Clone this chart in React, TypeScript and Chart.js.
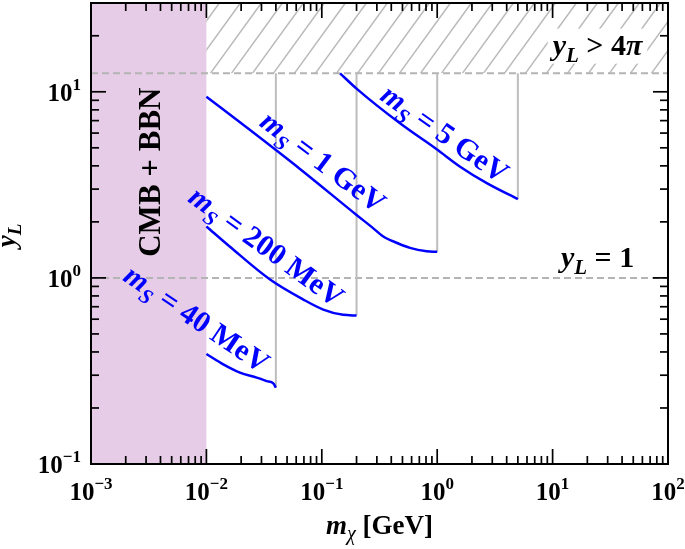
import React, { useEffect, useRef } from "react";
import { Chart, registerables } from "chart.js";

Chart.register(...registerables);

const SERIF = '"Liberation Serif", "Times New Roman", serif';

// axis ranges and ticks
const X_RANGE = [1e-3, 1e2];
const Y_RANGE = [0.1, 30];
const X_TICK_EXPONENTS = [-3, -2, -1, 0, 1, 2];
const Y_TICK_EXPONENTS = [-1, 0, 1];

// reference regions / lines
const CMB_BBN_MAX_MASS = 0.01;
const PERTURBATIVITY_LIMIT = 4 * Math.PI;
const UNIT_COUPLING = 1;

// curves (m_chi [GeV], y_L)
const MS_40MEV_X = [0.01, 0.014, 0.0195, 0.0273, 0.0333, 0.038, 0.04];
const MS_40MEV_Y = [0.39, 0.343, 0.31, 0.291, 0.279, 0.271, 0.257];
const MS_200MEV_X = [0.01, 0.016, 0.0356, 0.0692, 0.103, 0.153, 0.2];
const MS_200MEV_Y = [1.89, 1.47, 0.98, 0.765, 0.676, 0.633, 0.628];
const MS_1GEV_X = [0.01, 0.0239, 0.0647, 0.2, 0.27, 0.341, 0.45, 0.581, 0.81, 1.0];
const MS_1GEV_Y = [9.4, 6.23, 3.85, 2.18, 1.88, 1.67, 1.54, 1.45, 1.39, 1.38];
const MS_5GEV_X = [0.144, 0.2, 0.476, 0.99, 1.58, 2.69, 5.0];
const MS_5GEV_Y = [12.57, 10.4, 6.77, 4.91, 3.96, 3.23, 2.65];

const CURVE_NAMES = ["40 MeV", "200 MeV", "1 GeV", "5 GeV"];
const LABEL_X = [0.00829, 0.0333, 0.103, 1.168];
const LABEL_Y = [0.605, 1.476, 4.22, 5.98];
const LABEL_ANGLE_DEG = [34, 36, 37, 35];

const CURVES_X = [MS_40MEV_X, MS_200MEV_X, MS_1GEV_X, MS_5GEV_X];
const CURVES_Y = [MS_40MEV_Y, MS_200MEV_Y, MS_1GEV_Y, MS_5GEV_Y];

type Part = { t: string; b?: boolean; i?: boolean; s: number; dy?: number };

function fontOf(p: Part) {
  return `${p.i ? "italic " : ""}${p.b ? "bold " : ""}${p.s}px ${SERIF}`;
}

function drawRich(ctx: CanvasRenderingContext2D, parts: Part[], x: number, y: number, align: "left" | "center" | "right") {
  let w = 0;
  const ws = parts.map((p) => {
    ctx.font = fontOf(p);
    const m = ctx.measureText(p.t).width;
    w += m;
    return m;
  });
  let cx = align === "center" ? x - w / 2 : align === "right" ? x - w : x;
  const start = cx;
  ctx.textAlign = "left";
  ctx.textBaseline = "alphabetic";
  parts.forEach((p, k) => {
    ctx.font = fontOf(p);
    ctx.fillText(p.t, cx, y + (p.dy || 0));
    cx += ws[k];
  });
  return { left: start, width: w };
}

function expText(e: number) {
  return e < 0 ? "\u2212" + -e : String(e);
}

const overlay = {
  id: "overlay",
  beforeDatasetsDraw(chart: any) {
    const { ctx, chartArea: a, scales } = chart;
    const x = scales.x, y = scales.y;
    ctx.save();
    const xl = x.getPixelForValue(CMB_BBN_MAX_MASS);
    ctx.fillStyle = "#e6cce6";
    ctx.fillRect(a.left, a.top, xl - a.left, a.bottom - a.top);
    // hatched region y > 4pi
    const yp = y.getPixelForValue(PERTURBATIVITY_LIMIT);
    ctx.save();
    ctx.beginPath();
    ctx.rect(xl, a.top, a.right - xl, yp - a.top);
    ctx.clip();
    ctx.strokeStyle = "#b9b9b9";
    ctx.lineWidth = 1.5;
    const h = yp - a.top;
    const slope = 1.38;
    const span = h / slope;
    for (let sx = xl + 4 - 4 * 21; sx < a.right + 30; sx += 21) {
      ctx.beginPath();
      ctx.moveTo(sx, yp);
      ctx.lineTo(sx + span, a.top);
      ctx.stroke();
    }
    ctx.restore();
    ctx.restore();
  },
  afterDatasetsDraw(chart: any) {
    const { ctx, chartArea: a, scales } = chart;
    const x = scales.x, y = scales.y;
    ctx.save();
    // curve labels
    ctx.fillStyle = "#0000ff";
    CURVE_NAMES.forEach((name, k) => {
      const px = x.getPixelForValue(LABEL_X[k]);
      const py = y.getPixelForValue(LABEL_Y[k]);
      ctx.save();
      ctx.translate(px, py);
      ctx.rotate((LABEL_ANGLE_DEG[k] * Math.PI) / 180);
      drawRich(ctx, [
        { t: "m", b: true, i: true, s: 30 },
        { t: "S", b: true, i: true, s: 21, dy: 7 },
        { t: " = " + name, b: true, s: 30 },
      ], 0, 10, "center");
      ctx.restore();
    });
    // CMB + BBN
    ctx.fillStyle = "#000";
    ctx.save();
    ctx.translate(x.getPixelForValue(Math.sqrt(X_RANGE[0] * CMB_BBN_MAX_MASS)), y.getPixelForValue(3.7));
    ctx.rotate(-Math.PI / 2);
    drawRich(ctx, [{ t: "CMB + BBN", b: true, s: 31 }], 0, 11, "center");
    ctx.restore();
    // y_L > 4pi with white box
    const p1x = x.getPixelForValue(24.5), p1y = y.getPixelForValue(17.7);
    const parts1: Part[] = [
      { t: "y", b: true, i: true, s: 30 },
      { t: "L", b: true, i: true, s: 21, dy: 7 },
      { t: " > 4", b: true, s: 30 },
      { t: "\u03c0", b: true, i: true, s: 30 },
    ];
    let w1 = 0;
    parts1.forEach((p) => { ctx.font = fontOf(p); w1 += ctx.measureText(p.t).width; });
    ctx.fillStyle = "#fff";
    ctx.fillRect(p1x - w1 / 2 - 5, p1y - 17, w1 + 10, 35);
    ctx.fillStyle = "#000";
    drawRich(ctx, parts1, p1x, p1y + 9, "center");
    // y_L = 1
    const p2x = x.getPixelForValue(24.5), p2y = y.getPixelForValue(1.28);
    drawRich(ctx, [
      { t: "y", b: true, i: true, s: 30 },
      { t: "L", b: true, i: true, s: 21, dy: 7 },
      { t: " = 1", b: true, s: 30 },
    ], p2x, p2y + 9, "center");
    ctx.restore();
  },
  afterDraw(chart: any) {
    const { ctx, chartArea: a, scales } = chart;
    const x = scales.x, y = scales.y;
    ctx.save();
    ctx.strokeStyle = "#000";
    ctx.lineWidth = 1.7;
    const line = (x1: number, y1: number, x2: number, y2: number) => {
      ctx.beginPath();
      ctx.moveTo(x1, y1);
      ctx.lineTo(x2, y2);
      ctx.stroke();
    };
    for (const d of X_TICK_EXPONENTS) {
      for (let m = 1; m <= 9; m++) {
        const v = m * Math.pow(10, d);
        if (v < X_RANGE[0] * 0.999 || v > X_RANGE[1] * 1.001) continue;
        const px = x.getPixelForValue(v);
        const len = m === 1 ? 15 : 8;
        line(px, a.bottom, px, a.bottom - len);
        line(px, a.top, px, a.top + len);
      }
    }
    for (const d of Y_TICK_EXPONENTS) {
      for (let m = 1; m <= 9; m++) {
        const v = m * Math.pow(10, d);
        if (v < Y_RANGE[0] * 0.999 || v > Y_RANGE[1] * 0.999) continue;
        const py = y.getPixelForValue(v);
        const len = m === 1 ? 15 : 8;
        line(a.left, py, a.left + len, py);
        line(a.right, py, a.right - len, py);
      }
    }
    ctx.lineWidth = 2;
    ctx.strokeRect(a.left, a.top, a.right - a.left, a.bottom - a.top);
    // tick labels
    ctx.fillStyle = "#000";
    for (const d of X_TICK_EXPONENTS) {
      const px = x.getPixelForValue(Math.pow(10, d));
      drawRich(ctx, [
        { t: "10", b: true, s: 25 },
        { t: expText(d), b: true, s: 17, dy: -11 },
      ], px, a.bottom + 36, "center");
    }
    for (const d of Y_TICK_EXPONENTS) {
      const py = y.getPixelForValue(Math.pow(10, d));
      drawRich(ctx, [
        { t: "10", b: true, s: 25 },
        { t: expText(d), b: true, s: 17, dy: -11 },
      ], a.left - 10, py + 9, "right");
    }
    // axis titles
    drawRich(ctx, [
      { t: "m", b: true, i: true, s: 27 },
      { t: "\u03c7", i: true, s: 20, dy: 6 },
      { t: " [GeV]", b: true, s: 27 },
    ], (a.left + a.right) / 2, 534, "center");
    ctx.save();
    ctx.translate(15, (a.top + a.bottom) / 2 + 2);
    ctx.rotate(-Math.PI / 2);
    drawRich(ctx, [
      { t: "y", b: true, i: true, s: 27 },
      { t: "L", b: true, i: true, s: 19, dy: 6 },
    ], 0, 0, "center");
    ctx.restore();
    ctx.restore();
  },
};

export default function App() {
  const ref = useRef<HTMLCanvasElement | null>(null);
  useEffect(() => {
    if (!ref.current) return;
    const grayDash = (yv: number) => ({
      data: [{ x: X_RANGE[0], y: yv }, { x: X_RANGE[1], y: yv }],
      borderColor: "#b4b4b4",
      borderWidth: 2,
      borderDash: [7, 4],
      showLine: true,
      pointRadius: 0,
      order: 3,
    });
    const cutLines = CURVES_X.map((xs, k) => ({
      data: [
        { x: xs[xs.length - 1], y: PERTURBATIVITY_LIMIT },
        { x: xs[xs.length - 1], y: CURVES_Y[k][CURVES_Y[k].length - 1] },
      ],
      borderColor: "#bdbdbd",
      borderWidth: 2,
      showLine: true,
      pointRadius: 0,
      order: 2,
    }));
    const curves = CURVES_X.map((xs, k) => ({
      label: "m_S = " + CURVE_NAMES[k],
      data: xs.map((xv, j) => ({ x: xv, y: CURVES_Y[k][j] })),
      borderColor: "#0000ff",
      borderWidth: 2.5,
      showLine: true,
      pointRadius: 0,
      tension: 0.4,
      cubicInterpolationMode: "monotone",
      order: 1,
    }));
    const chart = new Chart(ref.current, {
      type: "scatter",
      data: {
        datasets: [
          grayDash(PERTURBATIVITY_LIMIT),
          grayDash(UNIT_COUPLING),
          ...cutLines,
          ...curves,
        ] as any,
      },
      options: {
        animation: false,
        responsive: false,
        events: [],
        layout: { padding: { left: 91, right: 17, top: 3, bottom: 85 } },
        plugins: { legend: { display: false }, tooltip: { enabled: false } },
        scales: {
          x: { type: "logarithmic", min: X_RANGE[0], max: X_RANGE[1], display: false },
          y: { type: "logarithmic", min: Y_RANGE[0], max: Y_RANGE[1], display: false },
        },
      },
      plugins: [overlay],
    });
    return () => chart.destroy();
  }, []);
  return (
    <div style={{ position: "fixed", left: 0, top: 0, width: 685, height: 549, background: "#fff" }}>
      <canvas ref={ref} width={685} height={549} style={{ display: "block" }} />
    </div>
  );
}
